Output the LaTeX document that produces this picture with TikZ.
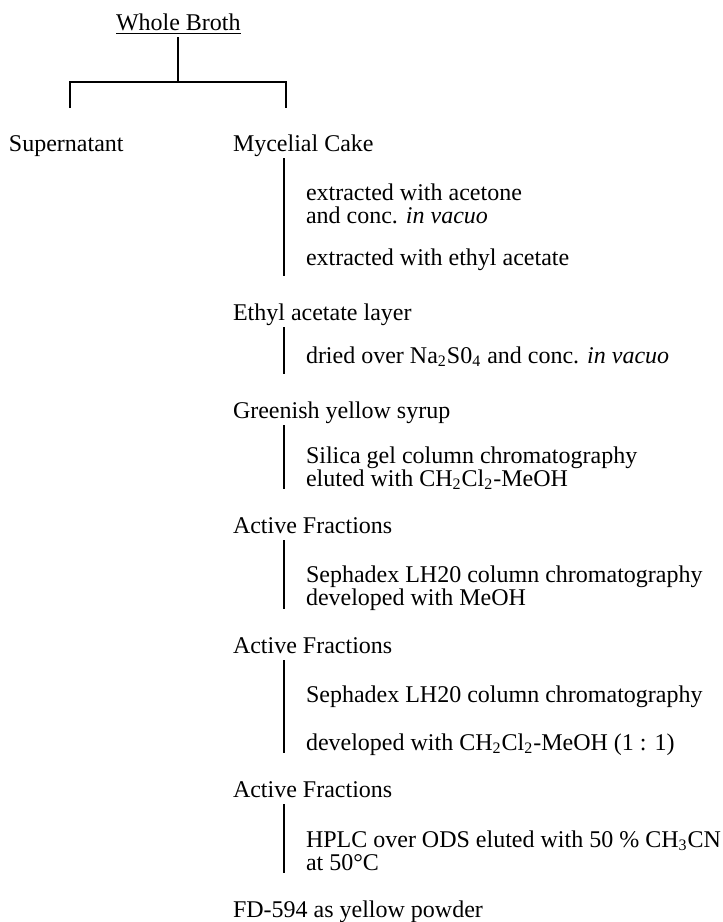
\documentclass[tikz,border=0pt]{standalone}
\usepackage{fontspec}
\setmainfont{Liberation Serif}
\usetikzlibrary{positioning}

\begin{document}
\begin{tikzpicture}[
        x=0.5pt, y=-0.5pt,
        every node/.style={inner sep=0pt, anchor=base west, font=\fontsize{12}{11.5}\selectfont},
        stage/.style={text height=8.5pt, text depth=3pt},
        stepbox/.style={align=left}, % base sits on the last line
        stepline/.style={shorten >=13pt},
        line width=1pt
    ]
        \useasboundingbox (0,0) rectangle (723,922);

        % Define the top node and the two branches
        \node[stage] (wb)    at (115,30)  {\underline{Whole Broth}};
        \node[stage] (super) at (8,151)   {Supernatant};
        \node[stage] (myc)   at (232,151) {Mycelial Cake};

        % Define the main column of products
        \node[stage] (eal) at (232,320) {Ethyl acetate layer};
        \node[stage] (gys) at (232,418) {Greenish yellow syrup};
        \node[stage] (af1) at (232,533) {Active Fractions};
        \node[stage] (af2) at (232,653) {Active Fractions};
        \node[stage] (af3) at (232,797) {Active Fractions};
        \node[stage] (fd)  at (232,917) {FD-594 as yellow powder};

        % Define the treatment steps
        \node[stepbox] (acet)   at (305,223) {extracted with acetone\\and conc. \textit{in vacuo}};
        \node[stepbox] (ethyl)  at (305,265) {extracted with ethyl acetate};
        \node[stepbox] (dried)  at (305,363) {dried over Na\textsubscript{2}S0\textsubscript{4} and conc. \textit{in vacuo}};
        \node[stepbox] (silica) at (305,486) {Silica gel column chromatography\\eluted with CH\textsubscript{2}Cl\textsubscript{2}-MeOH};
        \node[stepbox] (seph1)  at (305,605) {Sephadex LH20 column chromatography\\developed with MeOH};
        \node[stepbox] (seph2)  at (305,702) {Sephadex LH20 column chromatography};
        \node[stepbox] (dev2)   at (305,750) {developed with CH\textsubscript{2}Cl\textsubscript{2}-MeOH (1 : 1)};
        \node[stepbox] (hplc)   at (305,870) {HPLC over ODS eluted with 50 \% CH\textsubscript{3}CN\\at 50°C};

        % Points for the split and the step bars
        \coordinate (split) at (181,82);
        \coordinate (ldrop) at (70,108);
        \coordinate (rdrop) at (286,108);
        \coordinate (bar)   at (284,0);

        % Draw the split of the broth
        \draw (wb.south) -- (wb.south |- split);
        \draw (ldrop) |- (split) -| (rdrop);

        % Draw the step bars between the products
        \draw[stepline] (myc.south -| bar) -- (eal.north -| bar);
        \draw[stepline] (eal.south -| bar) -- (gys.north -| bar);
        \draw[stepline] (gys.south -| bar) -- (af1.north -| bar);
        \draw[stepline] (af1.south -| bar) -- (af2.north -| bar);
        \draw[stepline] (af2.south -| bar) -- (af3.north -| bar);
        \draw[stepline] (af3.south -| bar) -- (fd.north -| bar);

    \end{tikzpicture}
\end{document}
